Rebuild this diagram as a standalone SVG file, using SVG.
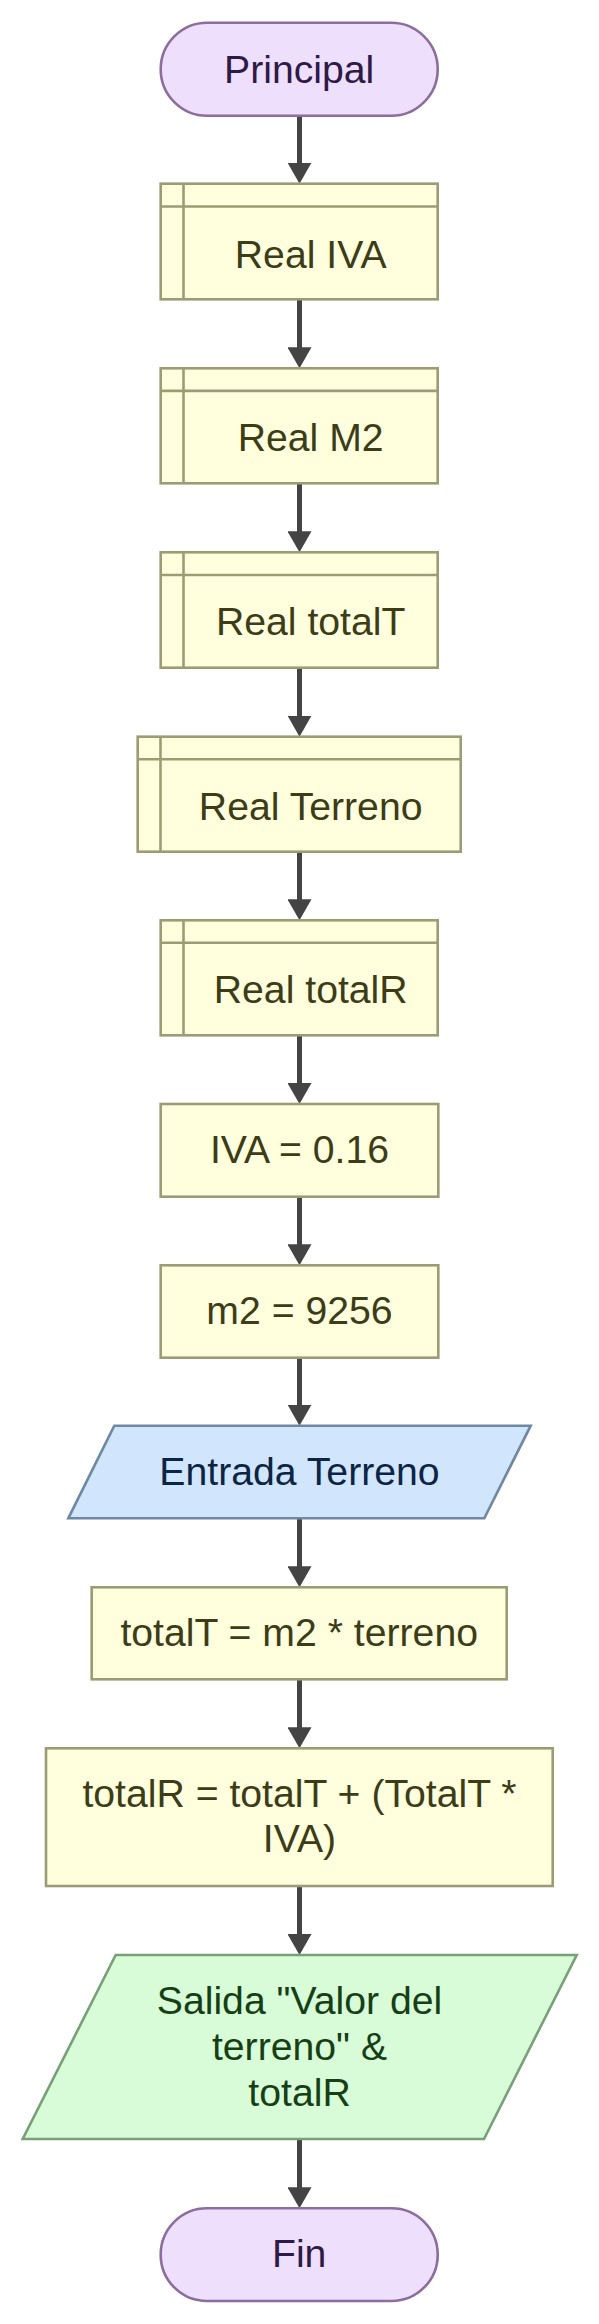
<svg xmlns="http://www.w3.org/2000/svg" width="599" height="2324" viewBox="0 0 599 2324">
<defs>
<marker id="ah" markerUnits="userSpaceOnUse" markerWidth="21" markerHeight="24" viewBox="0 0 21 24" refX="2" refY="12" orient="auto">
<path d="M0,0 L21,12 L0,24 z" fill="#444444"/>
</marker>
<style>
text{font-family:"Liberation Sans",Arial,sans-serif;font-size:39.2px;text-anchor:middle}
.term{fill:#EEE0FD;stroke:#8C6D9E;stroke-width:2.6}
.term-t{fill:#2E1A47}
.proc{fill:#FFFFDE;stroke:#9B9B76;stroke-width:2.6}
.proc-t{fill:#3C3C17}
.in{fill:#D1E6FD;stroke:#6E87A2;stroke-width:2.6}
.in-t{fill:#0C2544}
.out{fill:#D8FCD8;stroke:#78A078;stroke-width:2.6}
.out-t{fill:#163F16}
.edge{stroke:#444444;stroke-width:5;fill:none;marker-end:url(#ah)}
</style>
</defs>
<g id="connectors">
<line class="edge" x1="299.5" y1="115.7" x2="299.5" y2="164.7"/>
<line class="edge" x1="299.5" y1="299.3" x2="299.5" y2="349.3"/>
<line class="edge" x1="299.5" y1="483.3" x2="299.5" y2="533.3"/>
<line class="edge" x1="299.5" y1="667.7" x2="299.5" y2="717.7"/>
<line class="edge" x1="299.5" y1="851.7" x2="299.5" y2="901.3"/>
<line class="edge" x1="299.5" y1="1035.3" x2="299.5" y2="1085"/>
<line class="edge" x1="299.5" y1="1196.7" x2="299.5" y2="1246.3"/>
<line class="edge" x1="299.5" y1="1357.7" x2="299.5" y2="1406.7"/>
<line class="edge" x1="299.5" y1="1518.3" x2="299.5" y2="1568.3"/>
<line class="edge" x1="299.5" y1="1679.3" x2="299.5" y2="1729.3"/>
<line class="edge" x1="299.5" y1="1886" x2="299.5" y2="1936"/>
<line class="edge" x1="299.5" y1="2139" x2="299.5" y2="2189.3"/>
</g>
<g id="principal">
<rect class="term" x="160.7" y="22.7" width="277" height="93" rx="46.5" ry="46.5"/>
<text class="term-t" x="299.2" y="82.7">Principal</text>
</g>
<g id="real-iva">
<rect class="proc" x="160.7" y="183.7" width="277" height="115.6"/>
<line class="proc" x1="160.7" y1="206.5" x2="437.7" y2="206.5"/>
<line class="proc" x1="183.5" y1="183.7" x2="183.5" y2="299.3"/>
<text class="proc-t" x="310.7" y="267.5">Real IVA</text>
</g>
<g id="real-m2">
<rect class="proc" x="160.7" y="368.3" width="277" height="115"/>
<line class="proc" x1="160.7" y1="390.9" x2="437.7" y2="390.9"/>
<line class="proc" x1="183.5" y1="368.3" x2="183.5" y2="483.3"/>
<text class="proc-t" x="310.7" y="451">Real M2</text>
</g>
<g id="real-totalt">
<rect class="proc" x="160.7" y="552.3" width="277" height="115.4"/>
<line class="proc" x1="160.7" y1="575" x2="437.7" y2="575"/>
<line class="proc" x1="183.5" y1="552.3" x2="183.5" y2="667.7"/>
<text class="proc-t" x="310.7" y="635">Real totalT</text>
</g>
<g id="real-terreno">
<rect class="proc" x="137.7" y="736.7" width="323" height="115"/>
<line class="proc" x1="137.7" y1="759.3" x2="460.7" y2="759.3"/>
<line class="proc" x1="160.5" y1="736.7" x2="160.5" y2="851.7"/>
<text class="proc-t" x="310.7" y="819.5">Real Terreno</text>
</g>
<g id="real-totalr">
<rect class="proc" x="160.7" y="920.3" width="277" height="115"/>
<line class="proc" x1="160.7" y1="942.8" x2="437.7" y2="942.8"/>
<line class="proc" x1="183.5" y1="920.3" x2="183.5" y2="1035.3"/>
<text class="proc-t" x="310.7" y="1002.7">Real totalR</text>
</g>
<g id="iva-asign">
<rect class="proc" x="160.7" y="1104" width="277.6" height="92.7"/>
<text class="proc-t" x="299.5" y="1162.7">IVA = 0.16</text>
</g>
<g id="m2-asign">
<rect class="proc" x="160.7" y="1265.3" width="277.6" height="92.4"/>
<text class="proc-t" x="299.5" y="1324.3">m2 = 9256</text>
</g>
<g id="entrada">
<polygon class="in" points="114.3,1425.7 530.7,1425.7 484.3,1518.3 68.3,1518.3"/>
<text class="in-t" x="299.5" y="1485">Entrada Terreno</text>
</g>
<g id="calc-totalt">
<rect class="proc" x="91.7" y="1587.3" width="415" height="92"/>
<text class="proc-t" x="299.2" y="1646">totalT = m2 * terreno</text>
</g>
<g id="calc-totalr">
<rect class="proc" x="46" y="1748.3" width="506.7" height="137.7"/>
<text class="proc-t" x="299.5" y="1806.7">totalR = totalT + (TotalT *</text>
<text class="proc-t" x="299.5" y="1851.7">IVA)</text>
</g>
<g id="salida">
<polygon class="out" points="115.7,1955 576.7,1955 484,2139 22.7,2139"/>
<text class="out-t" x="299.5" y="2014">Salida "Valor del</text>
<text class="out-t" x="299.5" y="2060">terreno" &amp;</text>
<text class="out-t" x="299.5" y="2105.5">totalR</text>
</g>
<g id="fin">
<rect class="term" x="160.7" y="2208.3" width="277" height="92.7" rx="46.3" ry="46.3"/>
<text class="term-t" x="299.2" y="2266.7">Fin</text>
</g>
</svg>
